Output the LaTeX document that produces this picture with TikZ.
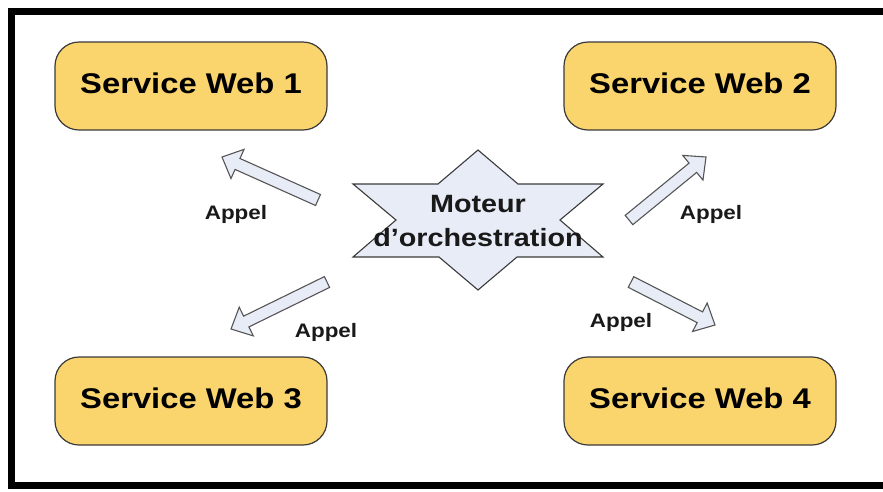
\documentclass[tikz,border=0pt]{standalone}
\usepackage{fontspec}
\setmainfont{Liberation Sans}[FakeStretch=1.15]
\usetikzlibrary{calc,positioning}
\definecolor{svcfill}{HTML}{FAD46C}
\definecolor{starfill}{HTML}{E7ECF7}
\definecolor{edge}{HTML}{3A3A3A}
\definecolor{arrowedge}{HTML}{555555}
\newcommand\callarrow[2]{%
  \coordinate (#2back) at ($(#2)!17pt!(#1)$);
  \draw[callarrow]
    ($(#1)!6pt!90:(#2)$) -- ($(#2back)!6pt!90:(#2)$)
    -- ($(#2back)!16pt!90:(#2)$) -- (#2)
    -- ($(#2back)!16pt!-90:(#2)$) -- ($(#2back)!6pt!-90:(#2)$)
    -- ($(#1)!6pt!-90:(#2)$) -- cycle;
}

\begin{document}
\begin{tikzpicture}[x=1pt,y=-1pt,
    service/.style={draw=edge,line width=1.2pt,fill=svcfill,rounded corners=24pt,
      minimum width=272pt,minimum height=88pt,text depth=6pt,
      font=\fontsize{28.5}{34}\selectfont\bfseries,text=black},
    callarrow/.style={draw=arrowedge,line width=1.1pt,fill=starfill,line join=miter},
    appel/.style={font=\fontsize{19.5}{24}\selectfont\bfseries,text=black!90}]
    \useasboundingbox (0,0) rectangle (883,491);

    % cadre
    \draw[line width=7pt] (900,11) -- (11,11) -- (11,485) -- (900,485);

    \path
    (191,86) node[service] (web1) {Service Web 1}
    (700,86) node[service] (web2) {Service Web 2}
    (191,401) node[service] (web3) {Service Web 3}
    (700,401) node[service] (web4) {Service Web 4}
    ;

    % etoile
    \draw[draw=edge,line width=1.1pt,fill=starfill,line join=miter]
      (478,150) -- (518,184) -- (603,184) -- (560,220) -- (603,257)
      -- (517,257) -- (478,290) -- (439,257) -- (353,257) -- (396,220)
      -- (353,184) -- (438,184) -- cycle;
    \node[align=center,font=\fontsize{25}{34}\selectfont\bfseries,text=black!90]
      (moteur) at (478,221) {Moteur\\d’orchestration};

    \path
    (318,200) coordinate (a1tail)
    (222,157) coordinate (a1tip)
    (629,220) coordinate (a2tail)
    (706,157) coordinate (a2tip)
    (327,282) coordinate (a3tail)
    (231,329) coordinate (a3tip)
    (631,282) coordinate (a4tail)
    (715,325) coordinate (a4tip)
    ;
    \callarrow{a1tail}{a1tip}
    \callarrow{a2tail}{a2tip}
    \callarrow{a3tail}{a3tip}
    \callarrow{a4tail}{a4tip}

    \path
    (236,214) node[appel] (appel1) {Appel}
    (711,214) node[appel] (appel2) {Appel}
    (326,332) node[appel] (appel3) {Appel}
    (621,322) node[appel] (appel4) {Appel}
    ;
  \end{tikzpicture}
\end{document}
